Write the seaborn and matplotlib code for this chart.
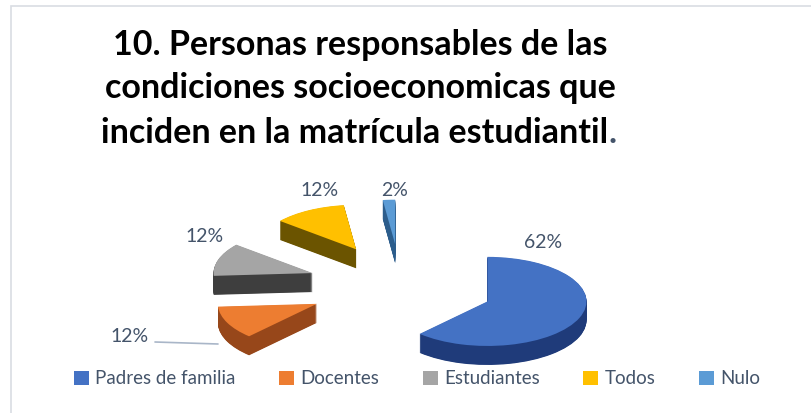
import matplotlib
matplotlib.use("Agg")
import matplotlib.pyplot as plt
import matplotlib.transforms as mtransforms
from matplotlib.patches import Rectangle
import seaborn as sns

# Data
categories = ["Padres de familia", "Docentes", "Estudiantes", "Todos", "Nulo"]
values = [62, 12, 12, 12, 2]
pct_labels = ["62%", "12%", "12%", "12%", "2%"]

# Colours (top face and darker side)
top_colors = ["#4472C4", "#ED7D31", "#A5A5A5", "#FFC000", "#5B9BD5"]
side_colors = ["#1F3B7A", "#97471A", "#3E3E3E", "#6B5400", "#2C5D8C"]

sns.set_theme(style="white")
plt.rcParams["font.family"] = ["Lato", "DejaVu Sans"]

W, H = 812, 413
fig = plt.figure(figsize=(W / 100, H / 100), dpi=100)
ax = fig.add_axes([0, 0, 1, 1])

# pie geometry in pixel units (y up)
cx, cy = 401, H - 286
R = 99
squash = 0.45
depth = 19
explode = [93] * len(values)


def pie_layer(colors, shift):
    wedges, _ = ax.pie(values, colors=colors, startangle=90, counterclock=False,
                       explode=explode, radius=R, center=(cx, cy),
                       wedgeprops=dict(linewidth=0))
    tr = (mtransforms.Affine2D().translate(-cx, -cy).scale(1, squash)
          .translate(cx, cy - shift) + ax.transData)
    for w in wedges:
        w.set_transform(tr)
    return wedges


# side walls, drawn from the bottom up
for k in range(depth * 2, 0, -1):
    pie_layer(side_colors, k / 2)
tops = pie_layer(top_colors, 0)

ax.set_aspect("auto")
ax.set_xlim(0, W)
ax.set_ylim(0, H)
ax.axis("off")

# percentage labels
label_pos = [(543, 243), (130, 336), (205, 237), (320, 190), (395, 190)]
for txt, (lx, ly) in zip(pct_labels, label_pos):
    ax.text(lx, H - ly, txt, ha="center", va="center", fontsize=14, color="#44546A")
ax.plot([155, 218], [H - 342, H - 344], color="#A9B6C8", lw=1.2)

# title
title_col = "black"
ax.text(360, H - 45, "10. Personas responsables de las", ha="center", va="center",
        fontsize=24.5, fontweight="bold", color=title_col)
ax.text(360, H - 88, "condiciones socioeconomicas que", ha="center", va="center",
        fontsize=24.5, fontweight="bold", color=title_col)
t3 = ax.text(355, H - 133, "inciden en la matrícula estudiantil", ha="center", va="center",
             fontsize=24.5, fontweight="bold", color=title_col)
ax.annotate(".", xy=(1, 0.5), xycoords=t3, va="center", ha="left",
            fontsize=24.5, fontweight="bold", color="#44546A")

# legend
leg = ax.legend(tops, categories, loc="center", ncol=5, frameon=False,
                bbox_to_anchor=(417 / W, 1 - 379 / H), bbox_transform=fig.transFigure,
                fontsize=13.5, handlelength=0.8, handleheight=0.8,
                handletextpad=0.35, columnspacing=2.3, labelcolor="#44546A")

# chart border
fig.patches.append(Rectangle((11 / W, -0.05), 1.2, 1 - 6 / H + 0.05,
                             transform=fig.transFigure, fill=False,
                             edgecolor="#D9DDE3", lw=1.2))

fig.savefig("out.png", dpi=100)
